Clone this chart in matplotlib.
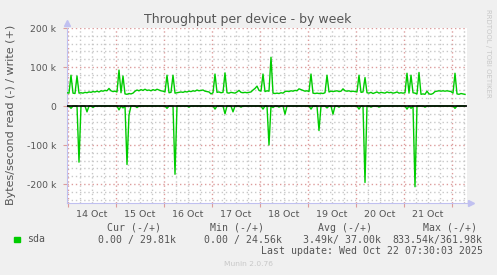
import matplotlib
matplotlib.use("Agg")
import matplotlib.pyplot as plt
import numpy as np
import pandas as pd

W, H = 497, 275
START = pd.Timestamp("2025-10-13 23:30")
END = pd.Timestamp("2025-10-22 07:30")

# hourly write throughput (k bytes/s), one value per hour from START
write_k = [
    34, 33, 79, 33, 32, 77, 33, 34, 33, 35, 34, 36, 35, 37, 36, 38, 36, 39, 38, 40, 39, 45, 39, 37,
    38, 36, 92, 34, 77, 31, 30, 32, 31, 33, 38, 41, 39, 42, 40, 43, 40, 41, 39, 42, 40, 43, 41, 39,
    38, 36, 79, 34, 35, 79, 33, 34, 35, 36, 35, 37, 36, 38, 37, 39, 38, 41, 39, 40, 41, 38, 37, 36,
    31, 34, 82, 35, 36, 34, 35, 85, 34, 33, 35, 34, 33, 36, 40, 35, 34, 35, 34, 35, 36, 41, 45, 51,
    40, 38, 82, 37, 39, 38, 125, 33, 32, 33, 32, 34, 33, 37, 38, 37, 39, 38, 40, 39, 44, 42, 40, 38,
    39, 37, 82, 33, 32, 33, 32, 33, 32, 34, 79, 36, 38, 37, 38, 39, 37, 38, 44, 39, 38, 39, 37, 38,
    37, 36, 79, 35, 36, 73, 34, 33, 35, 32, 34, 36, 33, 35, 34, 33, 36, 34, 35, 33, 34, 36, 33, 34,
    33, 34, 84, 33, 79, 34, 33, 31, 86, 30, 31, 30, 38, 31, 30, 32, 37, 38, 39, 38, 39, 38, 39, 38,
    37, 33, 84, 31, 30, 32, 31, 29.81,
]

# read throughput is zero except at these hours (k bytes/s)
read_hours = [2, 6, 10, 13, 26, 28, 30, 31, 35, 50, 54, 61, 74, 79, 83, 87, 98, 101, 103,
              106, 109, 122, 126, 130, 133, 136, 146, 149, 152, 156, 170, 172, 174, 179, 194]
read_k = [6, 144, 15, 4, 10, 5, 150, 23, 4, 6, 175, 3, 8, 20, 15, 3, 8, 100, 4,
          3, 21, 8, 63, 5, 21, 3, 8, 196, 3, 3, 8, 6, 207, 3, 6]

day_labels = ["14 Oct", "15 Oct", "16 Oct", "17 Oct", "18 Oct", "19 Oct", "20 Oct", "21 Oct"]
ytick_values = [200e3, 100e3, 0, -100e3, -200e3]
ytick_labels = ["200 k", "100 k", "0", "-100 k", "-200 k"]

legend_headers = ["Cur (-/+)", "Min (-/+)", "Avg (-/+)", "Max (-/+)"]
legend_values = ["0.00 / 29.81k", "0.00 / 24.56k", "3.49k/ 37.00k", "833.54k/361.98k"]

GREEN = "#00cc00"
MAJOR = "#dc9c9c"
MINOR = "#c8c8c8"
AXIS = "#c0c0f0"
TEXT = "#555555"


def px(x, y):
    return x / W, 1 - y / H


times = START + pd.to_timedelta(np.arange(len(write_k)), unit="h")
write = np.array(write_k) * 1e3
read = np.zeros(len(write_k))
read[read_hours] = -np.array(read_k) * 1e3

fig = plt.figure(figsize=(W / 100, H / 100), dpi=100, facecolor="#f0f0f0")
ax = fig.add_axes([67 / W, 1 - 203 / H, 400 / W, 175 / H])
ax.set_facecolor("white")

# grid
for t in pd.date_range("2025-10-14 06:00", END, freq="6h"):
    if t.hour != 0:
        ax.axvline(t, color=MINOR, lw=1.0, ls=(0, (1, 2)), zorder=1)
for t in pd.date_range("2025-10-14", END, freq="D"):
    ax.axvline(t, color=MAJOR, lw=1.0, ls=(0, (1, 2)), zorder=1)
for v in np.arange(-240e3, 201e3, 20e3):
    if abs(v) % 100e3 > 1:
        ax.axhline(v, color=MINOR, lw=1.0, ls=(0, (1, 2)), zorder=1)
for v in ytick_values:
    ax.axhline(v, color=MAJOR, lw=1.0, ls=(0, (1, 2)), zorder=1)

ax.plot(times, write, color=GREEN, lw=1.0, zorder=3)
ax.plot(times, read, color=GREEN, lw=1.0, zorder=3)
ax.axhline(0, color="black", lw=1.2, zorder=4)

ax.set_xlim(START, END)
ax.set_ylim(-248.7e3, 200e3)
ax.set_yticks(ytick_values, ytick_labels)
noon = pd.date_range("2025-10-14 12:00", periods=len(day_labels), freq="D")
ax.set_xticks(noon, day_labels)
ax.set_xticks(pd.date_range("2025-10-14", END, freq="D"), minor=True)
ax.tick_params(axis="x", which="major", length=0, pad=5, labelsize=6.8, labelcolor=TEXT)
ax.tick_params(axis="x", which="minor", length=3, color=MAJOR, width=0.8)
ax.tick_params(axis="y", length=3, color=MAJOR, width=0.8, pad=5, labelsize=6.7, labelcolor=TEXT)

for side in ["top", "right"]:
    ax.spines[side].set_visible(False)
for side in ["left", "bottom"]:
    ax.spines[side].set_color(AXIS)
    ax.spines[side].set_linewidth(0.8)
ax.plot([0], [1.0 + 4.5 / 175], marker="^", ms=4, color=AXIS, transform=ax.transAxes, clip_on=False)
ax.plot([1.0 + 4 / 400], [0], marker=">", ms=4, color=AXIS, transform=ax.transAxes, clip_on=False)

fig.text(*px(248, 19), "Throughput per device - by week", ha="center", va="center",
         fontsize=9, color=TEXT)
fig.text(*px(11, 115), "Bytes/second read (-) / write (+)", ha="center", va="center",
         rotation=90, fontsize=8, color=TEXT)
fig.text(*px(488, 53), "RRDTOOL / TOBI OETIKER", ha="center", va="center",
         rotation=270, fontsize=5, color="#c8c8c8")

# legend
fig.patches.append(plt.Rectangle(px(14, 242), 5.5 / W, 5.5 / H, transform=fig.transFigure,
                                 color=GREEN))
mono = dict(family="DejaVu Sans Mono", fontsize=7.1, color=TEXT, va="center")
fig.text(*px(27, 239.5), "sda", ha="left", **mono)
header_x = [134, 237, 344.5, 449.7]
value_right = [176, 282, 380.7, 482.7]
for hx, hdr in zip(header_x, legend_headers):
    fig.text(*px(hx, 228), hdr, ha="center", **mono)
for vx, val in zip(value_right, legend_values):
    fig.text(*px(vx, 239.5), val, ha="right", **mono)
fig.text(*px(482.7, 251), "Last update: Wed Oct 22 07:30:03 2025", ha="right", **mono)
fig.text(*px(248, 264), "Munin 2.0.76", ha="center", va="center", fontsize=5.4, color="#c8c8c8")

fig.savefig("out.png", dpi=100, facecolor=fig.get_facecolor())
